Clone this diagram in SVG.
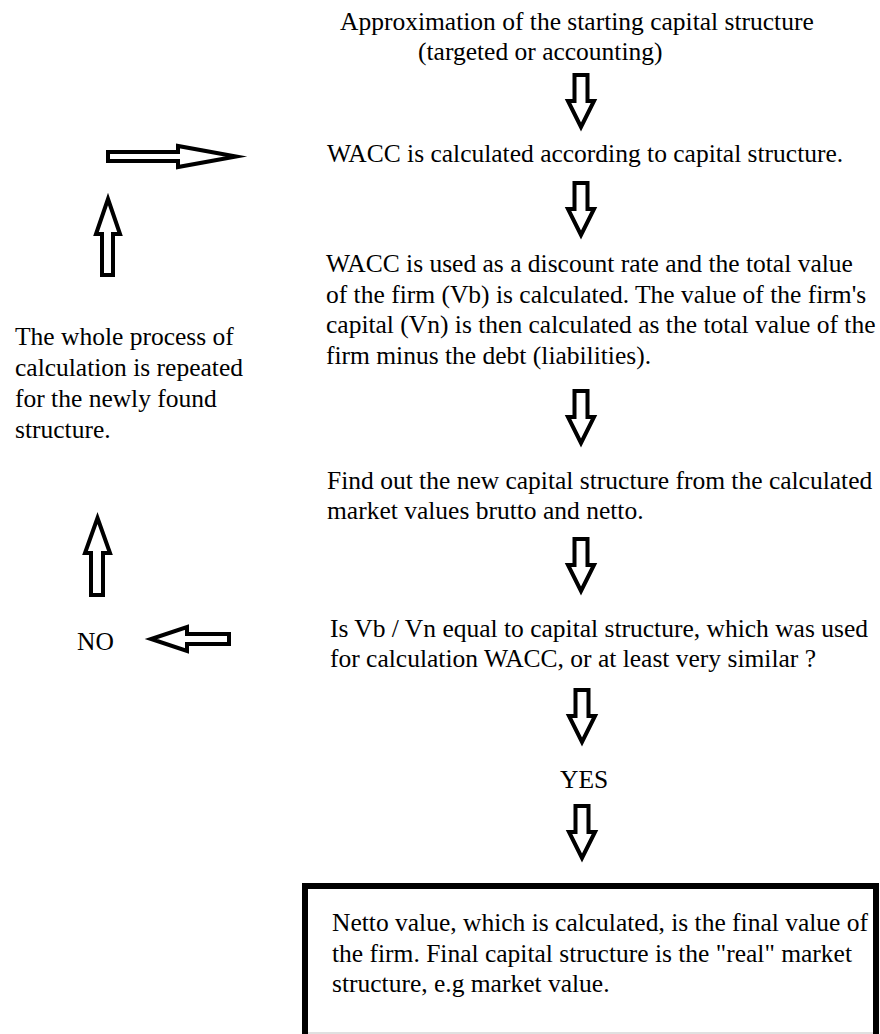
<svg xmlns="http://www.w3.org/2000/svg" width="880" height="1034" viewBox="0 0 880 1034">
<style>
text{font-family:"Liberation Serif","Times New Roman",serif;font-size:25.5px;fill:#000}
.arr{fill:#fff;stroke:#000;stroke-width:4;stroke-linejoin:miter;stroke-miterlimit:10}
.box{fill:#fff;stroke:#000;stroke-width:6}
</style>
<defs>
<path id="down" d="M-6.5,2 H6.5 V28 H13 L0,54 L-13,28 H-6.5 Z"/>
</defs>
<rect width="880" height="1034" fill="#fff"/>
<g id="n-start">
<text x="340" y="30">Approximation of the starting capital structure</text>
<text x="418" y="60">(targeted or accounting)</text>
</g>
<g id="n-wacc">
<text x="327" y="162">WACC is calculated according to capital structure.</text>
</g>
<g id="n-discount">
<text x="326" y="272">WACC is used as a discount rate and the total value</text>
<text x="326" y="302.5">of the firm (Vb) is calculated. The value of the firm's</text>
<text x="326" y="333">capital (Vn) is then calculated as the total value of the</text>
<text x="326" y="363.5">firm minus the debt (liabilities).</text>
</g>
<g id="n-newstructure">
<text x="327" y="489">Find out the new capital structure from the calculated</text>
<text x="327" y="519">market values brutto and netto.</text>
</g>
<g id="n-check">
<text x="330" y="637">Is Vb / Vn equal to capital structure, which was used</text>
<text x="330" y="667">for calculation WACC, or at least very similar ?</text>
</g>
<g id="n-yes">
<text x="560" y="788">YES</text>
</g>
<g id="n-no">
<text x="77" y="650">NO</text>
</g>
<g id="n-repeat">
<text x="15" y="345">The whole process of</text>
<text x="15" y="376">calculation is repeated</text>
<text x="15" y="407">for the newly found</text>
<text x="15" y="438">structure.</text>
</g>
<g id="n-final">
<rect class="box" x="305" y="886" width="571" height="200"/>
<rect x="308" y="1032" width="565" height="2" fill="#e0e0e0"/>
<text x="332" y="931">Netto value, which is calculated, is the final value of</text>
<text x="332" y="962">the firm. Final capital structure is the "real" market</text>
<text x="332" y="992">structure, e.g market value.</text>
</g>
<g id="connectors">
<use href="#down" class="arr" transform="translate(581,73)"/>
<use href="#down" class="arr" transform="translate(581,181)"/>
<use href="#down" class="arr" transform="translate(581,389)"/>
<use href="#down" class="arr" transform="translate(581,537)"/>
<use href="#down" class="arr" transform="translate(582,688)"/>
<use href="#down" class="arr" transform="translate(582,804)"/>
<path class="arr" d="M229,634 H187 V627 L151,639 L187,651 V644 H229 Z"/>
<path class="arr" d="M91,595 V553 H85 L97.5,518 L110,553 H103 V595 Z"/>
<path class="arr" d="M102,275 V234 H96 L108,199 L120,234 H113 V275 Z"/>
<path class="arr" d="M108,152 H178 V146 L236,156.5 L178,167 V161 H108 Z"/>
</g>
</svg>
